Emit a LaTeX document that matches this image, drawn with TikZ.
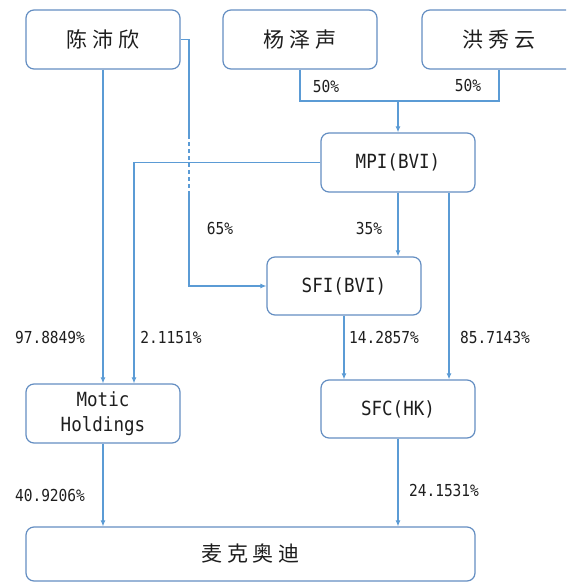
\documentclass[tikz,border=0pt]{standalone}
\usepackage{fontspec}
\usetikzlibrary{arrows.meta}
\newfontfamily\cjkname[LetterSpace=22]{Noto Sans CJK SC}
\newfontfamily\monofnt[FakeStretch=0.9]{DejaVu Sans Mono}
\newfontfamily\pctfnt[FakeStretch=0.88]{DejaVu Sans Mono}
\definecolor{boxblue}{RGB}{100,142,194}
\definecolor{lineblue}{RGB}{91,155,213}
\definecolor{txt}{RGB}{30,30,30}
\tikzset{
  entity/.style={draw=boxblue, line width=1.2pt, rounded corners=8pt, minimum width=154pt, minimum height=59pt, inner sep=0pt, text=txt, align=center},
  cname/.style={font=\cjkname\fontsize{21}{24}\selectfont},
  lname/.style={font=\monofnt\fontsize{19.5}{25}\selectfont},
  conn/.style={draw=lineblue, line width=1.1pt},
  arr/.style={conn, -{Latex[length=6pt,width=5pt]}},
  pct/.style={font=\pctfnt\fontsize{16.5}{18}\selectfont, text=txt, inner sep=0pt}
}
\begin{document}
\begin{tikzpicture}[x=1pt,y=-1pt]
\clip (0,0) rectangle (566,583);
\fill[white] (0,0) rectangle (566,583);
% boxes
\node[entity,cname] (chen) at (103,39.5) {陈沛欣};
\node[entity,cname] (yang) at (300,39.5) {杨泽声};
\node[entity,cname] (hong) at (499,39.5) {洪秀云};
\node[entity,lname] (mpi) at (398,162.5) {MPI(BVI)};
\node[entity,lname,minimum height=58pt] (sfi) at (344,286) {SFI(BVI)};
\node[entity,lname] (motic) at (103,413.5) {Motic\\Holdings};
\node[entity,lname,minimum height=58pt] (sfc) at (398,409) {SFC(HK)};
\node[entity,cname,minimum width=449pt,minimum height=54pt] (mkad) at (250.5,554) {麦克奥迪};
% helper coordinates
\coordinate (c1) at (189,39.5);
\coordinate (c2) at (189,135);
\coordinate (c3) at (189,193);
\coordinate (c4) at (189,286);
\coordinate (y1) at (300,101);
\coordinate (h1) at (499,101);
\coordinate (j1) at (398,101);
\coordinate (m1) at (134,162.5);
% connectors
\draw[arr] (chen.south) -- (motic.north);
\draw[conn] (chen.east) -- (c1) -- (c2);
\draw[conn,dash pattern=on 4pt off 3pt] (c2) -- (c3);
\draw[arr] (c3) -- (c4) -- (sfi.west);
\draw[conn] (yang.south) -- (y1) -- (h1) -- (hong.south);
\draw[arr] (j1) -- (mpi.north);
\draw[arr] (mpi.west) -- (m1) -- (m1 |- motic.north);
\draw[arr] (mpi.south) -- (mpi.south |- sfi.north);
\draw[arr] ([xshift=51pt]mpi.south) -- ([xshift=51pt]mpi.south |- sfc.north);
\draw[arr] (sfi.south) -- (sfi.south |- sfc.north);
\draw[arr] (motic.south) -- (motic.south |- mkad.north);
\draw[arr] (sfc.south) -- (sfc.south |- mkad.north);
% labels
\node[pct] (l1) at (326,86) {50\%};
\node[pct] (l2) at (468,85) {50\%};
\node[pct] (l3) at (220,228) {65\%};
\node[pct] (l4) at (369,228) {35\%};
\node[pct] (l5) at (50,337) {97.8849\%};
\node[pct] (l6) at (171,337) {2.1151\%};
\node[pct] (l7) at (384,337) {14.2857\%};
\node[pct] (l8) at (495,337) {85.7143\%};
\node[pct] (l9) at (50,495) {40.9206\%};
\node[pct] (l10) at (444,490) {24.1531\%};
\end{tikzpicture}
\end{document}
